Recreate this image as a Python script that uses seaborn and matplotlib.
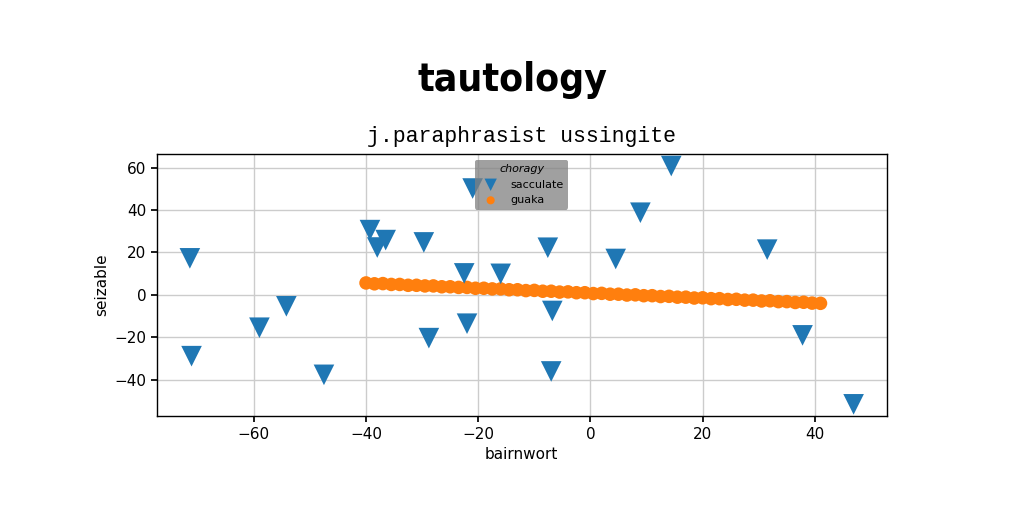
import matplotlib
matplotlib.use('Agg')
import matplotlib.pyplot as plt
import pandas as pd
import seaborn as sns

# sacculate: scattered triangles
sacculate_x = [-71.4, -71.1, -59.0, -54.2, -47.5, -39.3, -38.0, -36.5, -29.7, -28.8,
               -22.5, -22.0, -16.0, -21.0, -7.6, -6.8, -7.0, 4.5, 8.9, 14.4,
               31.5, 37.8, 46.9]
sacculate_y = [17.2, -28.9, -15.5, -5.4, -37.7, 30.5, 22.3, 25.8, 24.7, -20.4,
               10.1, -13.6, 9.9, 50.1, 22.2, -7.6, -36.1, 16.9, 38.7, 60.7,
               21.3, -19.1, -51.6]

# guaka: dense band of points
guaka_x = [-40.0, -38.5, -37.0, -35.5, -34.0, -32.5, -31.0, -29.5, -28.0, -26.5,
           -25.0, -23.5, -22.0, -20.5, -19.0, -17.5, -16.0, -14.5, -13.0, -11.5,
           -10.0, -8.5, -7.0, -5.5, -4.0, -2.5, -1.0, 0.5, 2.0, 3.5,
           5.0, 6.5, 8.0, 9.5, 11.0, 12.5, 14.0, 15.5, 17.0, 18.5,
           20.0, 21.5, 23.0, 24.5, 26.0, 27.5, 29.0, 30.5, 32.0, 33.5,
           35.0, 36.5, 38.0, 39.5, 41.0]
guaka_y = [5.6, 5.2, 5.3, 4.9, 4.9, 4.5, 4.5, 4.2, 4.2, 3.8,
           3.8, 3.5, 3.5, 3.1, 3.1, 2.8, 2.8, 2.4, 2.4, 2.0,
           2.1, 1.7, 1.7, 1.3, 1.4, 1.0, 1.0, 0.6, 0.7, 0.3,
           0.3, -0.1, 0.0, -0.4, -0.4, -0.8, -0.7, -1.1, -1.1, -1.5,
           -1.4, -1.8, -1.8, -2.2, -2.1, -2.5, -2.5, -2.9, -2.8, -3.2,
           -3.2, -3.6, -3.5, -3.9, -4.0]

sac = pd.DataFrame({'bairnwort': sacculate_x, 'seizable': sacculate_y})
gua = pd.DataFrame({'bairnwort': guaka_x, 'seizable': guaka_y})

sns.set_theme(style='ticks', rc={'axes.grid': True, 'grid.color': '#cccccc',
                                 'axes.edgecolor': 'black', 'xtick.color': 'black',
                                 'ytick.color': 'black', 'axes.linewidth': 1.0,
                                 'text.color': 'black', 'axes.labelcolor': 'black'})
plt.rcParams['font.family'] = ['DejaVu Sans']

fig = plt.figure(figsize=(10.24, 5.12), dpi=100)
ax = fig.add_axes([0.153, 0.187, 0.713, 0.512])

sns.scatterplot(data=sac, x='bairnwort', y='seizable', ax=ax, marker='v', s=220,
                color='#1f77b4', edgecolor='none', label='sacculate', zorder=3)
sns.scatterplot(data=gua, x='bairnwort', y='seizable', ax=ax, marker='o', s=95,
                color='#ff7f0e', edgecolor='none', label='guaka', zorder=2)

ax.tick_params(labelsize=11, length=4)
ax.set_xlabel('bairnwort', fontsize=11)
ax.set_ylabel('seizable', fontsize=11)
ax.set_xticks([-60, -40, -20, 0, 20, 40])
ax.set_yticks([-40, -20, 0, 20, 40, 60])

leg = ax.legend(title='choragy', loc='upper center', fontsize=8, title_fontsize=8,
                frameon=True, facecolor='#808080', framealpha=0.75,
                edgecolor='none', markerscale=0.6)
leg.get_title().set_style('italic')

ax.set_title('j.paraphrasist ussingite', family=['Liberation Mono', 'DejaVu Sans Mono'],
             fontsize=15.5, pad=9)
fig.text(0.5, 0.844, 'tautology', ha='center', va='center', fontsize=28,
         fontweight='heavy', fontstretch='condensed', color='black',
         family=['DejaVu Sans'])

fig.savefig('out.png', dpi=100)
